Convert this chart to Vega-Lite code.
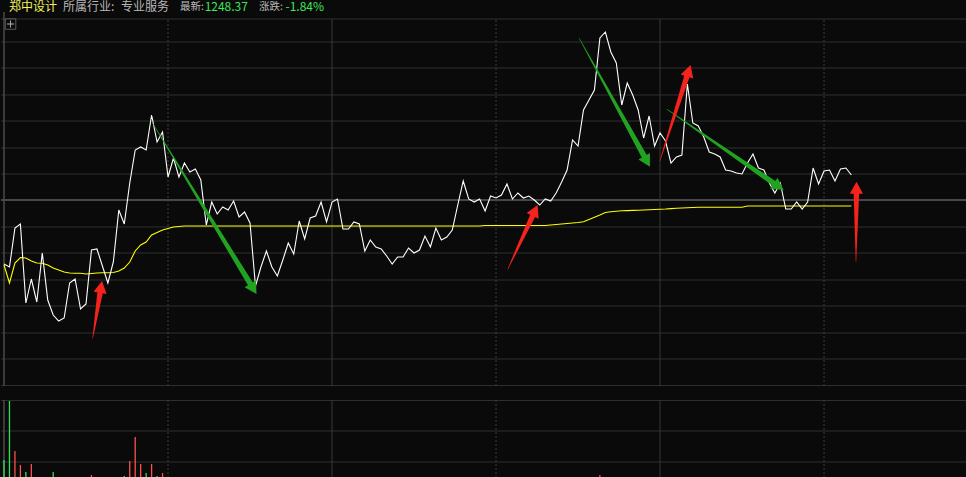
{
  "$schema": "https://vega.github.io/schema/vega-lite/v6.json",
  "padding": 0,
  "spacing": 12,
  "background": "#0a0a0a",
  "config": {"view": {"stroke": null}, "concat": {"spacing": 12}},
  "datasets": {
    "price": [
      {"m":0,"p":-6.4,"a":-6.5},{"m":1,"p":-6.7,"a":-8.3},{"m":2,"p":-2.8,"a":-6.3},{"m":3,"p":-2.4,"a":-5.75},
      {"m":4,"p":-10.3,"a":-5.8},{"m":5,"p":-7.9,"a":-6.1},{"m":6,"p":-10.2,"a":-6.3},{"m":7,"p":-5.3,"a":-6.33},
      {"m":8,"p":-10.0,"a":-6.5},{"m":9,"p":-11.5,"a":-6.8},{"m":10,"p":-12.1,"a":-7.0},{"m":11,"p":-11.8,"a":-7.2},
      {"m":12,"p":-8.3,"a":-7.3},{"m":13,"p":-7.9,"a":-7.33},{"m":14,"p":-10.9,"a":-7.33},{"m":15,"p":-10.4,"a":-7.4},
      {"m":16,"p":-5.0,"a":-7.35},{"m":17,"p":-4.9,"a":-7.3},{"m":18,"p":-6.6,"a":-7.27},{"m":19,"p":-8.3,"a":-7.27},
      {"m":20,"p":-6.2,"a":-7.25},{"m":21,"p":-1.0,"a":-7.1},{"m":22,"p":-2.4,"a":-6.8},{"m":23,"p":1.7,"a":-6.2},
      {"m":24,"p":5.0,"a":-5.1},{"m":25,"p":5.3,"a":-4.5},{"m":26,"p":5.0,"a":-4.2},{"m":27,"p":8.5,"a":-3.5},
      {"m":28,"p":5.8,"a":-3.25},{"m":29,"p":6.8,"a":-3.0},{"m":30,"p":2.3,"a":-2.85},{"m":31,"p":4.2,"a":-2.7},
      {"m":32,"p":2.3,"a":-2.65},{"m":33,"p":3.7,"a":-2.6},{"m":34,"p":2.8,"a":-2.6},{"m":35,"p":3.1,"a":-2.6},
      {"m":36,"p":2.0,"a":-2.6},{"m":37,"p":-2.5,"a":-2.6},{"m":38,"p":-0.2,"a":-2.6},{"m":39,"p":-1.4,"a":-2.6},
      {"m":40,"p":-0.7,"a":-2.6},{"m":41,"p":-1.0,"a":-2.6},{"m":42,"p":-0.1,"a":-2.6},{"m":43,"p":-1.7,"a":-2.6},
      {"m":44,"p":-1.2,"a":-2.6},{"m":45,"p":-2.3,"a":-2.6},{"m":46,"p":-8.6,"a":-2.6},{"m":47,"p":-6.7,"a":-2.6},
      {"m":48,"p":-5.1,"a":-2.6},{"m":49,"p":-6.7,"a":-2.6},{"m":50,"p":-7.6,"a":-2.6},{"m":51,"p":-6.0,"a":-2.6},
      {"m":52,"p":-4.3,"a":-2.6},{"m":53,"p":-5.4,"a":-2.6},{"m":54,"p":-2.1,"a":-2.6},{"m":55,"p":-3.9,"a":-2.6},
      {"m":56,"p":-1.8,"a":-2.6},{"m":57,"p":-1.6,"a":-2.6},{"m":58,"p":-0.2,"a":-2.6},{"m":59,"p":-2.2,"a":-2.6},
      {"m":60,"p":-0.2,"a":-2.6},{"m":61,"p":0.1,"a":-2.6},{"m":62,"p":-2.9,"a":-2.6},{"m":63,"p":-2.9,"a":-2.6},
      {"m":64,"p":-2.2,"a":-2.6},{"m":65,"p":-2.4,"a":-2.6},{"m":66,"p":-5.1,"a":-2.6},{"m":67,"p":-4.0,"a":-2.6},
      {"m":68,"p":-4.7,"a":-2.6},{"m":69,"p":-4.9,"a":-2.6},{"m":70,"p":-5.6,"a":-2.6},{"m":71,"p":-6.4,"a":-2.6},
      {"m":72,"p":-5.7,"a":-2.6},{"m":73,"p":-5.7,"a":-2.6},{"m":74,"p":-4.8,"a":-2.6},{"m":75,"p":-5.3,"a":-2.6},
      {"m":76,"p":-5.0,"a":-2.6},{"m":77,"p":-3.6,"a":-2.6},{"m":78,"p":-4.7,"a":-2.6},{"m":79,"p":-2.8,"a":-2.6},
      {"m":80,"p":-4.0,"a":-2.6},{"m":81,"p":-3.7,"a":-2.6},{"m":82,"p":-3.0,"a":-2.6},{"m":83,"p":-0.5,"a":-2.6},
      {"m":84,"p":1.9,"a":-2.6},{"m":85,"p":0.1,"a":-2.6},{"m":86,"p":-0.2,"a":-2.6},{"m":87,"p":0.1,"a":-2.6},
      {"m":88,"p":-1.1,"a":-2.55},{"m":89,"p":0.4,"a":-2.55},{"m":90,"p":0.2,"a":-2.55},{"m":91,"p":0.5,"a":-2.55},
      {"m":92,"p":1.6,"a":-2.55},{"m":93,"p":0.1,"a":-2.55},{"m":94,"p":0.7,"a":-2.55},{"m":95,"p":0.2,"a":-2.55},
      {"m":96,"p":0.4,"a":-2.55},{"m":97,"p":0.0,"a":-2.55},{"m":98,"p":-0.5,"a":-2.55},{"m":99,"p":0.1,"a":-2.55},
      {"m":100,"p":-0.1,"a":-2.5},{"m":101,"p":0.7,"a":-2.45},{"m":102,"p":1.8,"a":-2.4},{"m":103,"p":3.0,"a":-2.35},
      {"m":104,"p":6.0,"a":-2.3},{"m":105,"p":5.4,"a":-2.25},{"m":106,"p":9.0,"a":-2.17},{"m":107,"p":10.0,"a":-1.95},
      {"m":108,"p":11.0,"a":-1.73},{"m":109,"p":16.2,"a":-1.5},{"m":110,"p":16.8,"a":-1.25},{"m":111,"p":14.8,"a":-1.18},
      {"m":112,"p":13.7,"a":-1.13},{"m":113,"p":9.5,"a":-1.08},{"m":114,"p":11.7,"a":-1.06},{"m":115,"p":10.5,"a":-1.04},
      {"m":116,"p":9.0,"a":-1.02},{"m":117,"p":6.2,"a":-1.0},{"m":118,"p":8.4,"a":-0.97},{"m":119,"p":5.4,"a":-0.95},
      {"m":120,"p":6.7,"a":-0.92},{"m":121,"p":5.9,"a":-0.9},{"m":122,"p":3.7,"a":-0.86},{"m":123,"p":4.3,"a":-0.83},
      {"m":124,"p":4.5,"a":-0.8},{"m":125,"p":11.6,"a":-0.78},{"m":126,"p":7.7,"a":-0.75},{"m":127,"p":7.4,"a":-0.73},
      {"m":128,"p":6.3,"a":-0.73},{"m":129,"p":4.8,"a":-0.73},{"m":130,"p":4.6,"a":-0.73},{"m":131,"p":4.3,"a":-0.73},
      {"m":132,"p":3.0,"a":-0.73},{"m":133,"p":2.9,"a":-0.73},{"m":134,"p":2.7,"a":-0.73},{"m":135,"p":2.6,"a":-0.73},
      {"m":136,"p":3.7,"a":-0.6},{"m":137,"p":4.6,"a":-0.6},{"m":138,"p":3.2,"a":-0.6},{"m":139,"p":3.0,"a":-0.6},
      {"m":140,"p":1.7,"a":-0.6},{"m":141,"p":0.7,"a":-0.6},{"m":142,"p":1.7,"a":-0.6},{"m":143,"p":-0.9,"a":-0.6},
      {"m":144,"p":-0.9,"a":-0.6},{"m":145,"p":-0.2,"a":-0.6},{"m":146,"p":-0.9,"a":-0.6},{"m":147,"p":-0.2,"a":-0.6},
      {"m":148,"p":3.2,"a":-0.6},{"m":149,"p":1.6,"a":-0.6},{"m":150,"p":2.9,"a":-0.6},{"m":151,"p":3.0,"a":-0.6},
      {"m":152,"p":1.9,"a":-0.6},{"m":153,"p":3.1,"a":-0.6},{"m":154,"p":3.2,"a":-0.6},{"m":155,"p":2.5,"a":-0.6}
    ],
    "volume": [
      {"m":0,"vol":19,"dir":"down"},{"m":1,"vol":78,"dir":"down"},{"m":2,"vol":28,"dir":"up"},{"m":3,"vol":14,"dir":"up"},
      {"m":4,"vol":7,"dir":"down"},{"m":5,"vol":15,"dir":"up"},{"m":7,"vol":2,"dir":"up"},{"m":9,"vol":7,"dir":"down"},
      {"m":11,"vol":2,"dir":"up"},{"m":16,"vol":4,"dir":"up"},{"m":22,"vol":3,"dir":"down"},{"m":23,"vol":18,"dir":"up"},
      {"m":24,"vol":42,"dir":"up"},{"m":25,"vol":15,"dir":"up"},{"m":26,"vol":6,"dir":"down"},{"m":27,"vol":15,"dir":"up"},
      {"m":28,"vol":3,"dir":"down"},{"m":29,"vol":6,"dir":"up"},{"m":107,"vol":1,"dir":"up"},{"m":109,"vol":4,"dir":"up"}
    ],
    "shafts": [
      {"id":"g1","kind":"green","part":"tail","m":27.2,"v":7.67},{"id":"g1","kind":"green","part":"neck","m":45.05,"v":-8.375},
      {"id":"g2","kind":"green","part":"tail","m":105.23,"v":16.17},{"id":"g2","kind":"green","part":"neck","m":117.1,"v":4.38},
      {"id":"g3","kind":"green","part":"tail","m":121.27,"v":9.07},{"id":"g3","kind":"green","part":"neck","m":140.81,"v":1.682},
      {"id":"r1","kind":"red","part":"tail","m":16.22,"v":-13.83},{"id":"r1","kind":"red","part":"neck","m":17.57,"v":-9.285},
      {"id":"r2","kind":"red","part":"tail","m":92.14,"v":-6.93},{"id":"r2","kind":"red","part":"neck","m":96.7,"v":-1.588},
      {"id":"r3","kind":"red","part":"tail","m":119.96,"v":3.9},{"id":"r3","kind":"red","part":"neck","m":124.92,"v":12.357},
      {"id":"r4","kind":"red","part":"tail","m":155.84,"v":-6.17},{"id":"r4","kind":"red","part":"neck","m":155.92,"v":0.63}
    ],
    "heads": [
      {"id":"g1","kind":"green","m":46.19,"v":-9.4,"nm":45.05,"nv":-8.375},
      {"id":"g2","kind":"green","m":118.16,"v":3.33,"nm":117.1,"nv":4.38},
      {"id":"g3","kind":"green","m":142.62,"v":1.0,"nm":140.81,"nv":1.682},
      {"id":"r1","kind":"red","m":17.93,"v":-8.1,"nm":17.57,"nv":-9.285},
      {"id":"r2","kind":"red","m":97.62,"v":-0.5,"nm":96.7,"nv":-1.588},
      {"id":"r3","kind":"red","m":125.59,"v":13.5,"nm":124.92,"nv":12.357},
      {"id":"r4","kind":"red","m":155.94,"v":1.83,"nm":155.92,"nv":0.63}
    ],
    "header": [
      {"t":"郑中设计","kind":"name","m":0.915},
      {"t":"所属行业:","kind":"label","m":10.79},
      {"t":"专业服务","kind":"label","m":21.4},
      {"t":"最新:","kind":"small","m":32.19},
      {"t":"1248.37","kind":"val","m":36.7},
      {"t":"涨跌:","kind":"small","m":46.65},
      {"t":"-1.84%","kind":"val","m":51.5}
    ],
    "hgrid": [{"v":18.1},{"v":15.8},{"v":13.2},{"v":10.5},{"v":7.9},{"v":5.2},{"v":2.6},{"v":-2.7},{"v":-5.3},{"v":-8.0},{"v":-10.6},{"v":-13.3},{"v":-15.9},{"v":-18.55}],
    "vsolid": [{"m":60},{"m":120}],
    "vdot": [{"m":30},{"m":90},{"m":150}],
    "volgrid": [{"vol":78.5},{"vol":48},{"vol":17}]
  },
  "vconcat": [
    {
      "width": 966,
      "height": 386,
      "layer": [
        {
          "data": {"name": "hgrid"},
          "mark": {"type": "rule", "color": "#2e2e2e", "strokeWidth": 1},
          "encoding": {
            "y": {"field": "v", "type": "quantitative", "scale": {"domain": [-18.6, 20], "nice": false, "zero": false, "padding": 0}, "axis": null}
          }
        },
        {
          "data": {"values": [{"v": 0}]},
          "mark": {"type": "rule", "color": "#484848", "strokeWidth": 2},
          "encoding": {
            "y": {"field": "v", "type": "quantitative", "scale": {"domain": [-18.6, 20], "nice": false, "zero": false, "padding": 0}, "axis": null}
          }
        },
        {
          "data": {"name": "vsolid"},
          "mark": {"type": "rule", "color": "#383838", "strokeWidth": 1},
          "encoding": {
            "x": {"field": "m", "type": "quantitative", "scale": {"domain": [-0.549, 176.15], "nice": false, "zero": false, "padding": 0}, "axis": null},
            "y": {"datum": -18.6, "type": "quantitative", "scale": {"domain": [-18.6, 20], "nice": false, "zero": false, "padding": 0}, "axis": null},
            "y2": {"datum": 18.1}
          }
        },
        {
          "data": {"name": "vdot"},
          "mark": {"type": "rule", "color": "#3c3c3c", "strokeWidth": 1, "strokeDash": [2, 2]},
          "encoding": {
            "x": {"field": "m", "type": "quantitative", "scale": {"domain": [-0.549, 176.15], "nice": false, "zero": false, "padding": 0}, "axis": null},
            "y": {"datum": -18.6, "type": "quantitative", "scale": {"domain": [-18.6, 20], "nice": false, "zero": false, "padding": 0}, "axis": null},
            "y2": {"datum": 18.1}
          }
        },
        {
          "data": {"values": [{"m": 0}]},
          "mark": {"type": "rule", "color": "#4a4a4a", "strokeWidth": 1.5},
          "encoding": {
            "x": {"field": "m", "type": "quantitative", "scale": {"domain": [-0.549, 176.15], "nice": false, "zero": false, "padding": 0}, "axis": null},
            "y": {"datum": -18.6, "type": "quantitative", "scale": {"domain": [-18.6, 20], "nice": false, "zero": false, "padding": 0}, "axis": null},
            "y2": {"datum": 18.8}
          }
        },
        {
          "data": {"values": [{"m": 1.2, "v": 17.6}]},
          "mark": {"type": "square", "size": 110, "filled": false, "color": "#5a5a5a", "strokeWidth": 1, "opacity": 1},
          "encoding": {
            "x": {"field": "m", "type": "quantitative", "scale": {"domain": [-0.549, 176.15], "nice": false, "zero": false, "padding": 0}, "axis": null},
            "y": {"field": "v", "type": "quantitative", "scale": {"domain": [-18.6, 20], "nice": false, "zero": false, "padding": 0}, "axis": null}
          }
        },
        {
          "data": {"values": [{"m": 1.2, "v": 17.6}]},
          "mark": {"type": "point", "shape": "M-0.8,0L0.8,0M0,-0.8L0,0.8", "size": 80, "filled": false, "color": "#b0b0b0", "strokeWidth": 1, "opacity": 1},
          "encoding": {
            "x": {"field": "m", "type": "quantitative", "scale": {"domain": [-0.549, 176.15], "nice": false, "zero": false, "padding": 0}, "axis": null},
            "y": {"field": "v", "type": "quantitative", "scale": {"domain": [-18.6, 20], "nice": false, "zero": false, "padding": 0}, "axis": null}
          }
        },
        {
          "data": {"name": "price"},
          "mark": {"type": "line", "color": "#ffff00", "strokeWidth": 1.1},
          "encoding": {
            "x": {"field": "m", "type": "quantitative", "scale": {"domain": [-0.549, 176.15], "nice": false, "zero": false, "padding": 0}, "axis": null},
            "y": {"field": "a", "type": "quantitative", "scale": {"domain": [-18.6, 20], "nice": false, "zero": false, "padding": 0}, "axis": null}
          }
        },
        {
          "data": {"name": "price"},
          "mark": {"type": "line", "color": "#ffffff", "strokeWidth": 1.1},
          "encoding": {
            "x": {"field": "m", "type": "quantitative", "scale": {"domain": [-0.549, 176.15], "nice": false, "zero": false, "padding": 0}, "axis": null},
            "y": {"field": "p", "type": "quantitative", "scale": {"domain": [-18.6, 20], "nice": false, "zero": false, "padding": 0}, "axis": null}
          }
        },
        {
          "data": {"name": "shafts"},
          "transform": [
            {"filter": "datum.kind === 'green'"},
            {"calculate": "datum.part === 'tail' ? 0 : 1", "as": "w"}
          ],
          "mark": {"type": "trail", "color": "#21a321"},
          "encoding": {
            "x": {"field": "m", "type": "quantitative", "scale": {"domain": [-0.549, 176.15], "nice": false, "zero": false, "padding": 0}, "axis": null},
            "y": {"field": "v", "type": "quantitative", "scale": {"domain": [-18.6, 20], "nice": false, "zero": false, "padding": 0}, "axis": null},
            "size": {"field": "w", "type": "quantitative", "scale": {"domain": [0, 1], "range": [0.5, 5.5], "zero": false, "nice": false}, "legend": null},
            "detail": {"field": "id", "type": "nominal"}
          }
        },
        {
          "data": {"name": "shafts"},
          "transform": [
            {"filter": "datum.kind === 'red'"},
            {"calculate": "datum.part === 'tail' ? 0 : 1", "as": "w"}
          ],
          "mark": {"type": "trail", "color": "#f4231b"},
          "encoding": {
            "x": {"field": "m", "type": "quantitative", "scale": {"domain": [-0.549, 176.15], "nice": false, "zero": false, "padding": 0}, "axis": null},
            "y": {"field": "v", "type": "quantitative", "scale": {"domain": [-18.6, 20], "nice": false, "zero": false, "padding": 0}, "axis": null},
            "size": {"field": "w", "type": "quantitative", "scale": {"domain": [0, 1], "range": [0.5, 5.5], "zero": false, "nice": false}, "legend": null},
            "detail": {"field": "id", "type": "nominal"}
          }
        },
        {
          "data": {"name": "heads"},
          "transform": [
            {"filter": "datum.kind === 'green'"},
            {"calculate": "(atan2((datum.m - datum.nm) * 5.4667, (datum.v - datum.nv) * 10) * 180 / PI + 360) % 360", "as": "ang"}
          ],
          "mark": {"type": "point", "shape": "M0,0L0.55,1L-0.55,1Z", "filled": true, "size": 576, "opacity": 1, "strokeWidth": 0, "color": "#21a321"},
          "encoding": {
            "x": {"field": "m", "type": "quantitative", "scale": {"domain": [-0.549, 176.15], "nice": false, "zero": false, "padding": 0}, "axis": null},
            "y": {"field": "v", "type": "quantitative", "scale": {"domain": [-18.6, 20], "nice": false, "zero": false, "padding": 0}, "axis": null},
            "angle": {"field": "ang", "type": "quantitative", "scale": {"domain": [0, 360], "range": [0, 360], "zero": false, "nice": false}, "legend": null}
          }
        },
        {
          "data": {"name": "heads"},
          "transform": [
            {"filter": "datum.kind === 'red'"},
            {"calculate": "(atan2((datum.m - datum.nm) * 5.4667, (datum.v - datum.nv) * 10) * 180 / PI + 360) % 360", "as": "ang"}
          ],
          "mark": {"type": "point", "shape": "M0,0L0.55,1L-0.55,1Z", "filled": true, "size": 576, "opacity": 1, "strokeWidth": 0, "color": "#f4231b"},
          "encoding": {
            "x": {"field": "m", "type": "quantitative", "scale": {"domain": [-0.549, 176.15], "nice": false, "zero": false, "padding": 0}, "axis": null},
            "y": {"field": "v", "type": "quantitative", "scale": {"domain": [-18.6, 20], "nice": false, "zero": false, "padding": 0}, "axis": null},
            "angle": {"field": "ang", "type": "quantitative", "scale": {"domain": [0, 360], "range": [0, 360], "zero": false, "nice": false}, "legend": null}
          }
        },
        {
          "data": {"name": "header"},
          "transform": [{"filter": "datum.kind === 'name'"}],
          "mark": {"type": "text", "align": "left", "baseline": "middle", "font": "Noto Sans CJK SC", "fontSize": 12, "color": "#f2f25c"},
          "encoding": {
            "x": {"field": "m", "type": "quantitative", "scale": {"domain": [-0.549, 176.15], "nice": false, "zero": false, "padding": 0}, "axis": null},
            "y": {"datum": 19.35, "type": "quantitative", "scale": {"domain": [-18.6, 20], "nice": false, "zero": false, "padding": 0}, "axis": null},
            "text": {"field": "t", "type": "nominal"}
          }
        },
        {
          "data": {"name": "header"},
          "transform": [{"filter": "datum.kind === 'label'"}],
          "mark": {"type": "text", "align": "left", "baseline": "middle", "font": "Noto Sans CJK SC", "fontSize": 12, "color": "#b8b8b8"},
          "encoding": {
            "x": {"field": "m", "type": "quantitative", "scale": {"domain": [-0.549, 176.15], "nice": false, "zero": false, "padding": 0}, "axis": null},
            "y": {"datum": 19.35, "type": "quantitative", "scale": {"domain": [-18.6, 20], "nice": false, "zero": false, "padding": 0}, "axis": null},
            "text": {"field": "t", "type": "nominal"}
          }
        },
        {
          "data": {"name": "header"},
          "transform": [{"filter": "datum.kind === 'small'"}],
          "mark": {"type": "text", "align": "left", "baseline": "middle", "font": "Noto Sans CJK SC", "fontSize": 10.5, "color": "#b8b8b8"},
          "encoding": {
            "x": {"field": "m", "type": "quantitative", "scale": {"domain": [-0.549, 176.15], "nice": false, "zero": false, "padding": 0}, "axis": null},
            "y": {"datum": 19.35, "type": "quantitative", "scale": {"domain": [-18.6, 20], "nice": false, "zero": false, "padding": 0}, "axis": null},
            "text": {"field": "t", "type": "nominal"}
          }
        },
        {
          "data": {"name": "header"},
          "transform": [{"filter": "datum.kind === 'val'"}],
          "mark": {"type": "text", "align": "left", "baseline": "middle", "font": "Noto Sans CJK SC", "fontSize": 12, "color": "#3be65a"},
          "encoding": {
            "x": {"field": "m", "type": "quantitative", "scale": {"domain": [-0.549, 176.15], "nice": false, "zero": false, "padding": 0}, "axis": null},
            "y": {"datum": 19.35, "type": "quantitative", "scale": {"domain": [-18.6, 20], "nice": false, "zero": false, "padding": 0}, "axis": null},
            "text": {"field": "t", "type": "nominal"}
          }
        }
      ]
    },
    {
      "width": 966,
      "height": 79,
      "layer": [
        {
          "data": {"name": "volgrid"},
          "mark": {"type": "rule", "color": "#2e2e2e", "strokeWidth": 1},
          "encoding": {
            "y": {"field": "vol", "type": "quantitative", "scale": {"domain": [0, 79], "nice": false, "zero": false, "padding": 0}, "axis": null}
          }
        },
        {
          "data": {"name": "vsolid"},
          "mark": {"type": "rule", "color": "#383838", "strokeWidth": 1},
          "encoding": {
            "x": {"field": "m", "type": "quantitative", "scale": {"domain": [-0.549, 176.15], "nice": false, "zero": false, "padding": 0}, "axis": null}
          }
        },
        {
          "data": {"name": "vdot"},
          "mark": {"type": "rule", "color": "#3c3c3c", "strokeWidth": 1, "strokeDash": [2, 2]},
          "encoding": {
            "x": {"field": "m", "type": "quantitative", "scale": {"domain": [-0.549, 176.15], "nice": false, "zero": false, "padding": 0}, "axis": null}
          }
        },
        {
          "data": {"values": [{"m": 0}]},
          "mark": {"type": "rule", "color": "#4a4a4a", "strokeWidth": 1.5},
          "encoding": {
            "x": {"field": "m", "type": "quantitative", "scale": {"domain": [-0.549, 176.15], "nice": false, "zero": false, "padding": 0}, "axis": null}
          }
        },
        {
          "data": {"name": "volume"},
          "transform": [{"filter": "datum.dir === 'up'"}],
          "mark": {"type": "bar", "width": 1.3, "color": "#ff5050"},
          "encoding": {
            "x": {"field": "m", "type": "quantitative", "scale": {"domain": [-0.549, 176.15], "nice": false, "zero": false, "padding": 0}, "axis": null},
            "y": {"field": "vol", "type": "quantitative", "scale": {"domain": [0, 79], "nice": false, "padding": 0}, "axis": null}
          }
        },
        {
          "data": {"name": "volume"},
          "transform": [{"filter": "datum.dir === 'down'"}],
          "mark": {"type": "bar", "width": 1.3, "color": "#30e05a"},
          "encoding": {
            "x": {"field": "m", "type": "quantitative", "scale": {"domain": [-0.549, 176.15], "nice": false, "zero": false, "padding": 0}, "axis": null},
            "y": {"field": "vol", "type": "quantitative", "scale": {"domain": [0, 79], "nice": false, "padding": 0}, "axis": null}
          }
        }
      ]
    }
  ]
}
